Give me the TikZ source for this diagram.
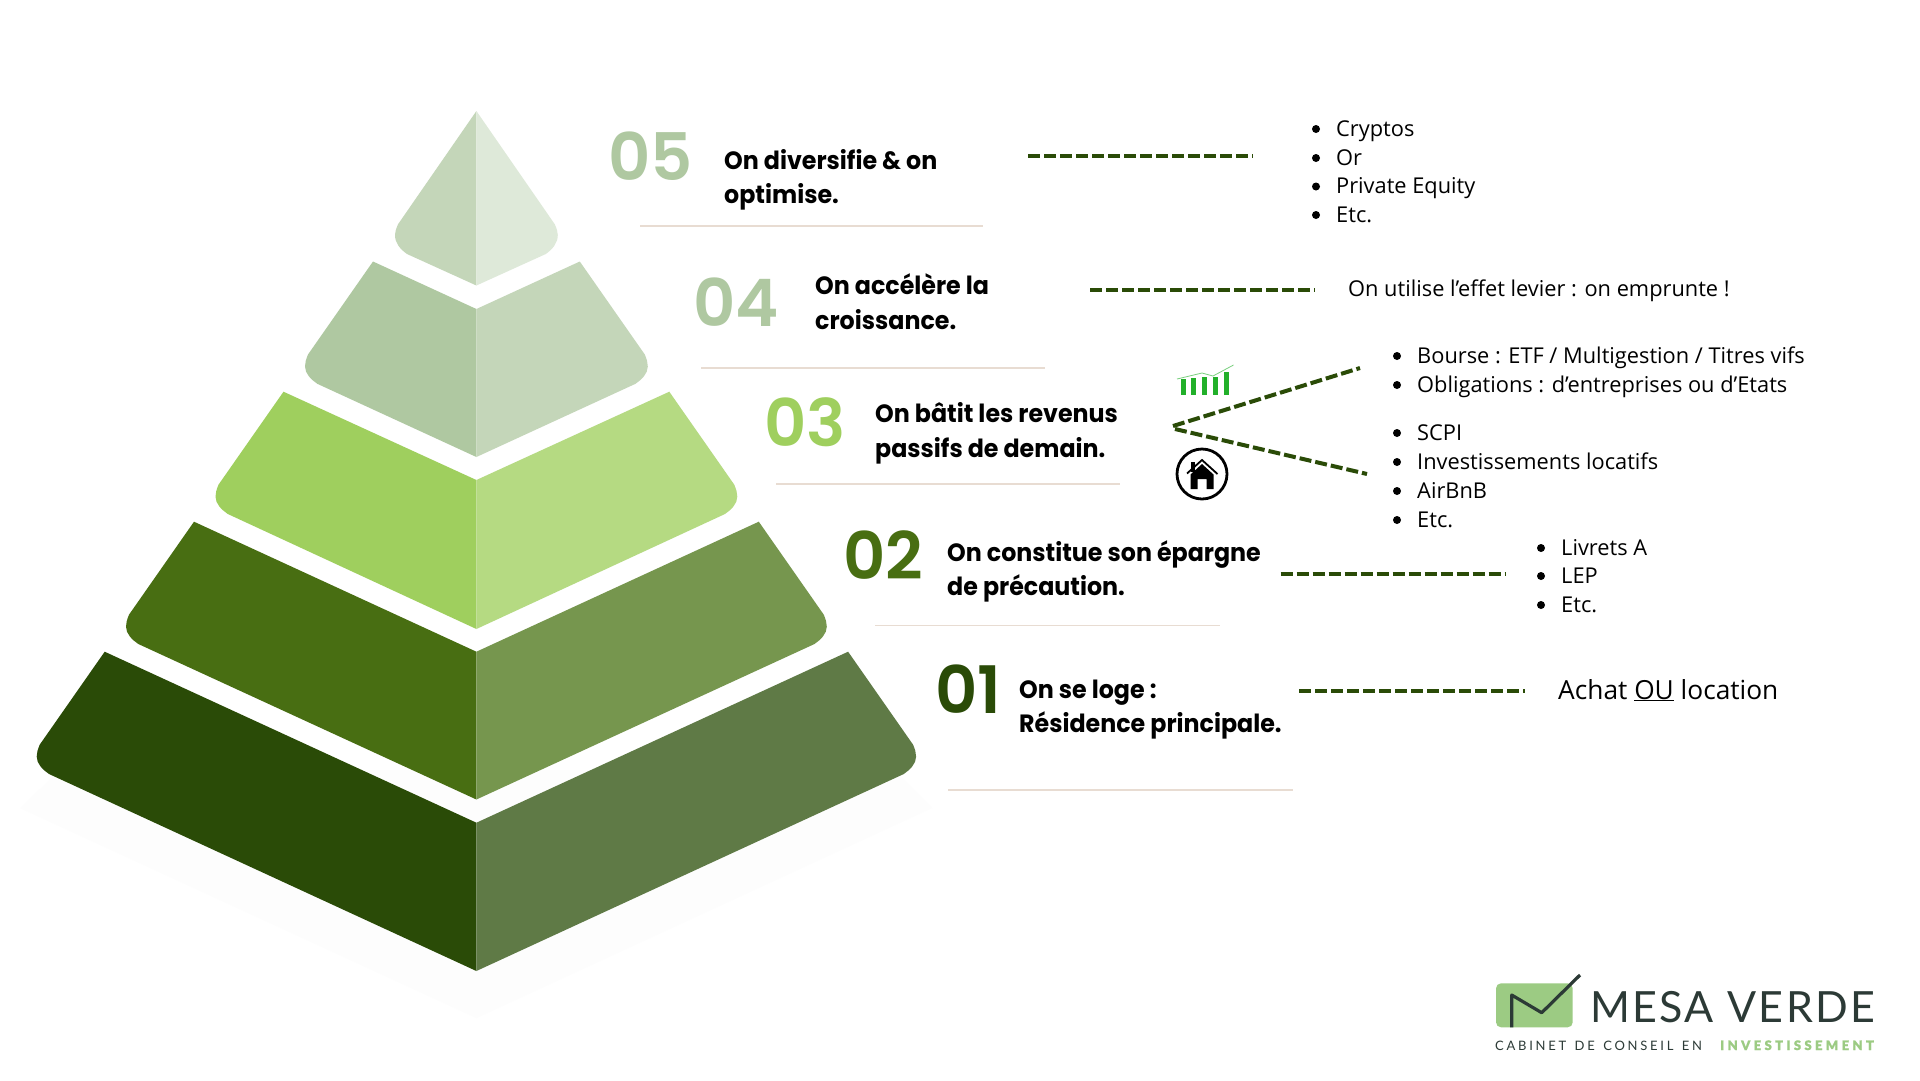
\documentclass[tikz,border=0pt]{standalone}
\usepackage{fontspec}
\setmainfont{Open Sans}
\newfontfamily\headf[FakeStretch=0.95]{Poppins Bold}
\newfontfamily\numf{Poppins SemiBold}
\newfontfamily\logof[LetterSpace=5.5]{Lato}
\newfontfamily\logosm[LetterSpace=21,WordSpace=1.4]{Lato}
\newfontfamily\logobd[LetterSpace=26,FakeBold=1]{Lato Black}
\definecolor{dk}{HTML}{2A4B07}
\definecolor{dkR}{HTML}{5F7A46}
\definecolor{mdL}{HTML}{486E12}
\definecolor{mdR}{HTML}{76964E}
\definecolor{ltL}{HTML}{9FCF5E}
\definecolor{ltR}{HTML}{B5DA82}
\definecolor{paL}{HTML}{AFC8A1}
\definecolor{paR}{HTML}{C4D6B9}
\definecolor{toR}{HTML}{DEE9D9}
\definecolor{ruleclr}{HTML}{E8DCD2}
\definecolor{logogreen}{HTML}{9CCB83}
\definecolor{logodark}{HTML}{2C3A36}
\definecolor{iconG}{HTML}{22B02A}
\definecolor{faintsh}{HTML}{FDFDFD}
\tikzset{
  numlabel/.style={anchor=base west,inner sep=0,font=\numf\fontsize{65.5}{65}\selectfont},
  head/.style={anchor=base west,inner sep=0,font=\headf\fontsize{25}{25}\selectfont,text=black},
  body/.style={anchor=base west,inner sep=0,font=\fontsize{21.8}{22}\selectfont,text=black},
  dot/.style={circle,fill=black,inner sep=0,minimum size=8pt},
  sepline/.style={draw=ruleclr,line width=1.3pt},
  dashline/.style={draw=dk,line width=4pt,dash pattern=on 12pt off 4pt},
}
\newcommand{\pyrlayer}[6]{%
  \pgfmathsetmacro{\lx}{#1}\pgfmathsetmacro{\ly}{#2}\pgfmathsetmacro{\rx}{952.8-#1}%
  \fill[#5] (\lx,\ly) -- (\lx-65,\ly+93) .. controls (\lx-67,\ly+98) and (\lx-68,\ly+101) .. (\lx-68,\ly+105)
     .. controls (\lx-68,\ly+112) and (\lx-62,\ly+118) .. (\lx-55.7,\ly+122.3) -- (476.4,#4) -- (476.4,#3) -- cycle;
  \fill[#6] (\rx,\ly) -- (\rx+65,\ly+93) .. controls (\rx+67,\ly+98) and (\rx+68,\ly+101) .. (\rx+68,\ly+105)
     .. controls (\rx+68,\ly+112) and (\rx+62,\ly+118) .. (\rx+55.7,\ly+122.3) -- (476.4,#4) -- (476.4,#3) -- cycle;
}
\begin{document}
\begin{tikzpicture}[x=1pt,y=-1pt]
\useasboundingbox (0,0) rectangle (1920,1080);
\fill[white] (0,0) rectangle (1920,1080);
% shadow
\fill[faintsh] (60,770) -- (20,808) -- (476.4,1018) -- (932,808) -- (895,770) -- cycle;
% pyramid
\pyrlayer{104.7}{651.7}{822.7}{971}{dk}{dkR}
\pyrlayer{194}{521.7}{651.7}{799.5}{mdL}{mdR}
\pyrlayer{283.5}{391.7}{480}{629}{ltL}{ltR}
\pyrlayer{373}{261.5}{309}{457}{paL}{paR}
\fill[paR] (476.4,111) -- (398,224.3) .. controls (396,229) and (395,232) .. (395,235)
   .. controls (395,243) and (400,249) .. (407,254) -- (476.4,285.5) -- cycle;
\fill[toR] (476.4,111) -- (554.8,224.3) .. controls (556.8,229) and (557.8,232) .. (557.8,235)
   .. controls (557.8,243) and (552.8,249) .. (545.8,254) -- (476.4,285.5) -- cycle;
% numbers
\node[numlabel,text=paL] (n5) at (608,180) {05};
\node[numlabel,text=paL] (n4) at (693,326) {04};
\node[numlabel,text=ltL] (n3) at (764,446) {03};
\node[numlabel,text=mdL] (n2) at (843,579) {02};
\node[numlabel,text=dk] (n1) at (935,713) {01};
% headings
\node[head] (h5a) at (724,169) {On diversifie \& on};
\node[head] (h5b) at (724,203) {optimise.};
\node[head] (h4a) at (815,294) {On accélère la};
\node[head] (h4b) at (815,329) {croissance.};
\node[head] (h3a) at (875,422) {On bâtit les revenus};
\node[head] (h3b) at (875,457) {passifs de demain.};
\node[head] (h2a) at (947,561) {On constitue son épargne};
\node[head] (h2b) at (947,595) {de précaution.};
\node[head] (h1a) at (1019,698) {On se loge :};
\node[head] (h1b) at (1019,732) {Résidence principale.};
% separators
\coordinate (s5a) at (640,226); \coordinate (s5b) at (983,226);
\coordinate (s4a) at (701,368); \coordinate (s4b) at (1045,368);
\coordinate (s3a) at (776,484); \coordinate (s3b) at (1120,484);
\coordinate (s2a) at (875,625.5); \coordinate (s2b) at (1220,625.5);
\coordinate (s1a) at (948,790); \coordinate (s1b) at (1293,790);
\foreach \k in {5,4,3,2,1} \draw[sepline] (s\k a) -- (s\k b);
% dashes
\coordinate (d5a) at (1028,155.5); \coordinate (d5b) at (1253,155.5);
\coordinate (d4a) at (1090,290); \coordinate (d4b) at (1315,290);
\coordinate (d2a) at (1280.5,574); \coordinate (d2b) at (1506,574);
\coordinate (d1a) at (1299,690.5); \coordinate (d1b) at (1525,690.5);
\coordinate (d3o) at (1173,426); \coordinate (d3u) at (1360,368);
\coordinate (d3p) at (1175,429); \coordinate (d3d) at (1367,474);
\foreach \k in {5,4,2,1} \draw[dashline] (d\k a) -- (d\k b);
\draw[dashline] (d3o) -- (d3u);
\draw[dashline] (d3p) -- (d3d);
% lists
\foreach \nm/\bx/\by/\tx/\txt in {
 a/1316/129/1336/{Cryptos},b/1316/158/1336/{Or},c/1316/186.5/1336/{Private Equity},d/1316/215/1336/{Etc.},
 e/1397/356/1417/{Bourse : ETF / Multigestion / Titres vifs},f/1397/385/1417/{Obligations : d’entreprises ou d’Etats},
 g/1397/433/1417/{SCPI},h/1397/462/1417/{Investissements locatifs},i/1397/491/1417/{AirBnB},j/1397/520/1417/{Etc.},
 k/1541/548/1561/{Livrets A},l/1541/576/1561/{LEP},m/1541/605/1561/{Etc.}}
 {\node[dot] (b\nm) at (\bx,\by) {};
  \node[body] (t\nm) at (\tx,\by+7) {\txt};}
\node[body] (t4) at (1348,296) {On utilise l’effet levier : on emprunte !};
\node[body,font=\fontsize{26.3}{26}\selectfont] (t1) at (1558,699) {Achat \underline{OU} location};
% chart icon
\foreach \xa/\ya in {1181/379,1191/378,1202/377,1213/377,1224/372}
  \fill[iconG] (\xa,\ya) rectangle (\xa+5.3,395);
\draw[iconG!60,line width=.8pt] (1177,379) -- (1202,373) -- (1213,376) -- (1233.5,365);
% house icon
\node[circle,draw=black,line width=2.8pt,minimum size=50pt,inner sep=0] (homeic) at (1202,474) {};
\fill (1190.5,462) rectangle (1195,472);
\draw[line width=1.8pt] (1187,473.5) -- (1202,460) -- (1217.5,474);
\fill (1202,464) -- (1213.5,474.5) -- (1213.5,489) -- (1206.5,489) -- (1206.5,479) -- (1197.5,479) -- (1197.5,489) -- (1190.5,489) -- (1190.5,474.5) -- cycle;
% logo
\fill[logogreen,rounded corners=5pt] (1496,983.3) rectangle (1572.7,1027.3);
\coordinate (ck0) at (1511.7,1027.3); \coordinate (ck1) at (1511.7,995); \coordinate (ck2) at (1541.7,1012.7); \coordinate (ck3) at (1580,975);
\draw[logodark,line width=3.2pt,line join=round] (ck0) -- (ck1) -- (ck2) -- (ck3);
\node[anchor=base west,inner sep=0,text=logodark,font=\logof\fontsize{43}{43}\selectfont] (lg) at (1590,1022.3) {MESA VERDE};
\node[anchor=base west,inner sep=0,text=logodark,font=\logosm\fontsize{13}{13}\selectfont] (lg2) at (1495,1050) {CABINET DE CONSEIL EN};
\node[anchor=base west,inner sep=0,text=logogreen,font=\logobd\fontsize{13}{13}\selectfont] (lg3) at (1720,1050) {INVESTISSEMENT};
\end{tikzpicture}
\end{document}
